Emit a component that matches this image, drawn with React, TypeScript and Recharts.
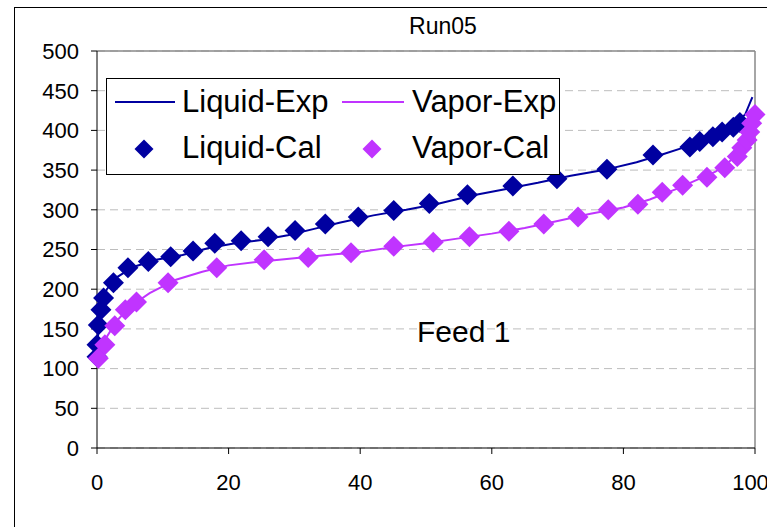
import { CartesianGrid, ComposedChart, ReferenceLine, Scatter, XAxis, YAxis } from "recharts";

const BLUE = "#0000A0";
const PURPLE = "#C034FF";
const FONT = "'Liberation Sans', Arial, sans-serif";

// mole % on x, temperature on y
const liquidExpX = [0, 0.3, 0.8, 1.5, 3, 5.5, 9, 13, 17, 21, 25, 29, 33, 37, 42, 47, 52, 57, 62, 67, 72, 77, 82, 86, 89, 92, 95, 97, 98.5, 99.6];
const liquidExpY = [120, 160, 185, 200, 215, 228, 237, 243, 252, 258, 262, 268, 276, 284, 293, 300, 308, 318, 326, 334, 343, 350, 360, 370, 378, 388, 398, 408, 420, 442];

const vaporExpX = [0, 0.5, 1.5, 3, 5, 8, 12, 16, 20, 25, 30, 35, 40, 45, 50, 55, 60, 65, 70, 75, 80, 84, 88, 91, 94, 96, 97.5, 98.5, 99.3, 100];
const vaporExpY = [110, 122, 140, 160, 178, 195, 212, 222, 230, 235, 239, 243, 247, 253, 258, 264, 270, 277, 286, 295, 303, 313, 326, 337, 348, 360, 372, 385, 400, 422];

const liquidCalX = [0, 0, 0.2, 0.6, 1.0, 2.5, 4.7, 7.8, 11.2, 14.6, 17.9, 21.9, 26.0, 30.1, 34.7, 39.7, 45.1, 50.5, 56.3, 63.2, 69.9, 77.5, 84.5, 90.1, 91.6, 93.6, 95.0, 96.7, 97.7];
const liquidCalY = [115, 130, 155, 174, 189, 208, 227, 235, 241, 248, 258, 261, 266, 274, 282, 291, 299, 308, 319, 330, 339, 351, 369, 379, 386, 392, 398, 404, 410];

const vaporCalX = [0.2, 1.2, 2.7, 4.3, 6.0, 10.8, 18.2, 25.4, 32.1, 38.6, 45.1, 51.1, 56.6, 62.6, 67.9, 73.1, 77.7, 82.2, 85.9, 89.0, 92.7, 95.4, 97.3, 98.0, 98.8, 99.2, 99.5, 100];
const vaporCalY = [113, 130, 154, 174, 184, 208, 227, 237, 240, 246, 254, 259, 266, 273, 282, 291, 300, 307, 322, 331, 341, 353, 367, 378, 388, 398, 409, 420];

const xTicks = [0, 20, 40, 60, 80, 100];
const yTicks = [0, 50, 100, 150, 200, 250, 300, 350, 400, 450, 500];

const toPoints = (xs: number[], ys: number[]) => xs.map((x, i) => ({ x, y: ys[i] }));

const diamond = (fill: string, r: number) => (props: any) => {
  const { cx, cy } = props;
  return <polygon points={`${cx},${cy - r} ${cx + r},${cy} ${cx},${cy + r} ${cx - r},${cy}`} fill={fill} />;
};

const noDot = () => <g />;

export default function App() {
  return (
    <div style={{ position: "absolute", left: 0, top: 0, width: 767, height: 527, overflow: "hidden", background: "#fff" }}>
      <div style={{ position: "absolute", left: 14, top: 7, width: 900, height: 700, border: "1px solid #000" }} />
      <div style={{ position: "absolute", left: 0, top: 0 }}>
        <ComposedChart width={767} height={527} margin={{ top: 51, right: 12, bottom: 19, left: 0 }}>
          <CartesianGrid vertical={false} stroke="#BDBDBD" strokeDasharray="8 5" />
          <XAxis
            dataKey="x"
            type="number"
            domain={[0, 100]}
            ticks={xTicks}
            height={60}
            stroke="#000"
            tickSize={6}
            tickMargin={20}
            tick={{ fontSize: 22, fill: "#000", fontFamily: FONT }}
          />
          <YAxis
            dataKey="y"
            type="number"
            domain={[0, 500]}
            ticks={yTicks}
            width={97}
            stroke="#000"
            tickSize={6}
            tickMargin={12}
            tick={{ fontSize: 22, fill: "#000", fontFamily: FONT }}
          />
          <ReferenceLine y={500} stroke="#888" strokeWidth={1.5} />
          <ReferenceLine x={100} stroke="#888" strokeWidth={1.5} />
          <Scatter name="Liquid-Exp" data={toPoints(liquidExpX, liquidExpY)} line={{ stroke: BLUE, strokeWidth: 2 }} shape={noDot} isAnimationActive={false} />
          <Scatter name="Vapor-Exp" data={toPoints(vaporExpX, vaporExpY)} line={{ stroke: PURPLE, strokeWidth: 2 }} shape={noDot} isAnimationActive={false} />
          <Scatter name="Liquid-Cal" data={toPoints(liquidCalX, liquidCalY)} shape={diamond(BLUE, 10.5)} isAnimationActive={false} />
          <Scatter name="Vapor-Cal" data={toPoints(vaporCalX, vaporCalY)} shape={diamond(PURPLE, 10.5)} isAnimationActive={false} />
        </ComposedChart>
      </div>
      <svg width={767} height={527} style={{ position: "absolute", left: 0, top: 0, pointerEvents: "none" }} fontFamily={FONT}>
        <text x={443} y={34} fontSize={23} textAnchor="middle" fill="#000">Run05</text>
        <text x={417} y={342} fontSize={30} fill="#000">Feed 1</text>
        <rect x={106.5} y={78.5} width={453} height={96} fill="#fff" stroke="#000" strokeWidth={1} />
        <line x1={115} y1={102} x2={175} y2={102} stroke={BLUE} strokeWidth={2} />
        <text x={182} y={112} fontSize={31} fill="#000">Liquid-Exp</text>
        <line x1={342} y1={102} x2={404} y2={102} stroke={PURPLE} strokeWidth={2} />
        <text x={412} y={112} fontSize={31} fill="#000">Vapor-Exp</text>
        <polygon points="144,139.5 153.5,149 144,158.5 134.5,149" fill={BLUE} />
        <text x={182} y={158} fontSize={31} fill="#000">Liquid-Cal</text>
        <polygon points="372,139.5 381.5,149 372,158.5 362.5,149" fill={PURPLE} />
        <text x={412} y={158} fontSize={31} fill="#000">Vapor-Cal</text>
      </svg>
    </div>
  );
}
